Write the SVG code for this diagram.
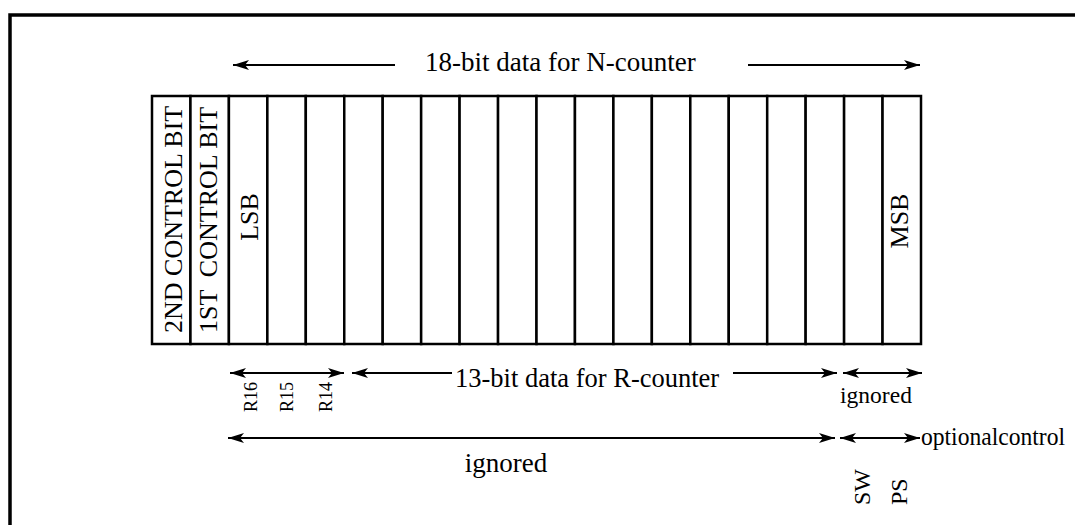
<svg xmlns="http://www.w3.org/2000/svg" width="1075" height="525" viewBox="0 0 1075 525">
<style>
.cell{fill:#fff;stroke:#000;stroke-width:2.5}
.t{font-family:"Liberation Serif","Times New Roman",serif;fill:#000}
.conn{stroke:#000;stroke-width:2;fill:none}
</style>
<defs>
<marker id="ah" viewBox="0 0 16 10" markerWidth="16" markerHeight="10" refX="16" refY="5" orient="auto-start-reverse" markerUnits="userSpaceOnUse">
<path d="M0,0 L16,5 L0,10 L4,5 z" fill="#000"/>
</marker>
</defs>
<rect x="0" y="0" width="1075" height="525" fill="#fff"/>
<rect id="frame" x="10" y="15" width="1100" height="560" fill="none" stroke="#000" stroke-width="3.5"/>

<g id="cell-0"><rect class="cell" x="152" y="96" width="38.45" height="248"/>
<text class="t" font-size="26" transform="translate(182,333) rotate(-90)">2ND CONTROL BIT</text></g>
<g id="cell-1"><rect class="cell" x="190.45" y="96" width="38.45" height="248"/>
<text class="t" font-size="26" xml:space="preserve" transform="translate(217,333) rotate(-90)">1ST  CONTROL BIT</text></g>
<g id="cell-2"><rect class="cell" x="228.9" y="96" width="38.45" height="248"/>
<text class="t" font-size="26" text-anchor="middle" transform="translate(258,217) rotate(-90)">LSB</text></g>
<g id="cell-3"><rect class="cell" x="267.35" y="96" width="38.45" height="248"/></g>
<g id="cell-4"><rect class="cell" x="305.8" y="96" width="38.45" height="248"/></g>
<g id="cell-5"><rect class="cell" x="344.25" y="96" width="38.45" height="248"/></g>
<g id="cell-6"><rect class="cell" x="382.7" y="96" width="38.45" height="248"/></g>
<g id="cell-7"><rect class="cell" x="421.15" y="96" width="38.45" height="248"/></g>
<g id="cell-8"><rect class="cell" x="459.6" y="96" width="38.45" height="248"/></g>
<g id="cell-9"><rect class="cell" x="498.05" y="96" width="38.45" height="248"/></g>
<g id="cell-10"><rect class="cell" x="536.5" y="96" width="38.45" height="248"/></g>
<g id="cell-11"><rect class="cell" x="574.95" y="96" width="38.45" height="248"/></g>
<g id="cell-12"><rect class="cell" x="613.4" y="96" width="38.45" height="248"/></g>
<g id="cell-13"><rect class="cell" x="651.85" y="96" width="38.45" height="248"/></g>
<g id="cell-14"><rect class="cell" x="690.3" y="96" width="38.45" height="248"/></g>
<g id="cell-15"><rect class="cell" x="728.75" y="96" width="38.45" height="248"/></g>
<g id="cell-16"><rect class="cell" x="767.2" y="96" width="38.45" height="248"/></g>
<g id="cell-17"><rect class="cell" x="805.65" y="96" width="38.45" height="248"/></g>
<g id="cell-18"><rect class="cell" x="844.1" y="96" width="38.45" height="248"/></g>
<g id="cell-19"><rect class="cell" x="882.55" y="96" width="38.45" height="248"/>
<text class="t" font-size="26" text-anchor="middle" transform="translate(908,221) rotate(-90)">MSB</text></g>

<g id="connectors">
<line class="conn" x1="395" y1="65" x2="233" y2="65" marker-end="url(#ah)"/>
<line class="conn" x1="748" y1="65" x2="920" y2="65" marker-end="url(#ah)"/>
<line class="conn" x1="230" y1="373" x2="344" y2="373" marker-start="url(#ah)" marker-end="url(#ah)"/>
<line class="conn" x1="452" y1="373" x2="352" y2="373" marker-end="url(#ah)"/>
<line class="conn" x1="733" y1="373" x2="837" y2="373" marker-end="url(#ah)"/>
<line class="conn" x1="843" y1="373" x2="922" y2="373" marker-start="url(#ah)" marker-end="url(#ah)"/>
<line class="conn" x1="228" y1="438" x2="835" y2="438" marker-start="url(#ah)" marker-end="url(#ah)"/>
<line class="conn" x1="840" y1="438" x2="920" y2="438" marker-start="url(#ah)" marker-end="url(#ah)"/>
</g>

<g id="labels">
<text class="t" font-size="27" x="425" y="71">18-bit data for N-counter</text>
<text class="t" font-size="26.5" x="455" y="387">13-bit data for R-counter</text>
<text class="t" font-size="23.5" x="876" y="403" text-anchor="middle">ignored</text>
<text class="t" font-size="27" x="506" y="472" text-anchor="middle">ignored</text>
<text class="t" font-size="25" x="921" y="445" textLength="144" lengthAdjust="spacingAndGlyphs">optionalcontrol</text>
<text class="t" font-size="18" transform="translate(257,412) rotate(-90)">R16</text>
<text class="t" font-size="18" transform="translate(293,412) rotate(-90)">R15</text>
<text class="t" font-size="18" transform="translate(332,412) rotate(-90)">R14</text>
<text class="t" font-size="24" transform="translate(870,505) rotate(-90)">SW</text>
<text class="t" font-size="24" transform="translate(907,505) rotate(-90)">PS</text>
</g>
</svg>
